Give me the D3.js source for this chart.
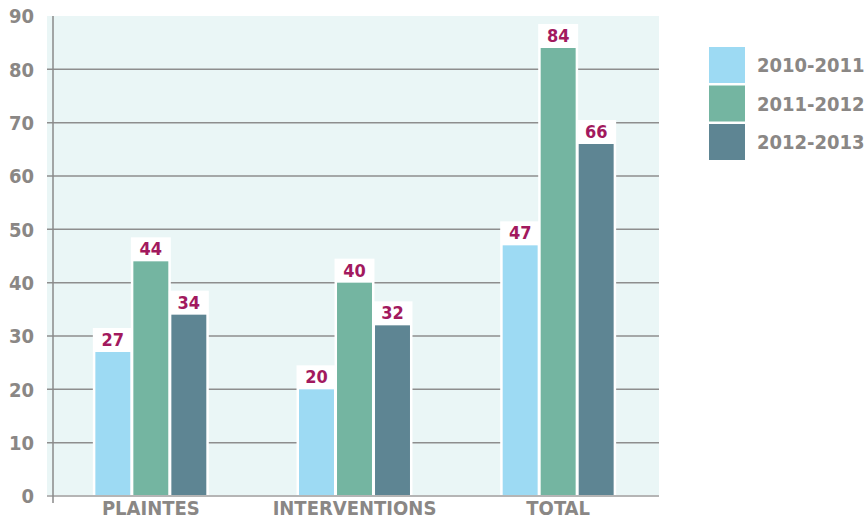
<!DOCTYPE html>
<html>
<head>
<meta charset="utf-8">
<script src="https://cdn.jsdelivr.net/npm/d3@7"></script>
<style>
  body { margin: 0; background: #fff; }
  text { font-family: "DejaVu Sans Condensed", Roboto, sans-serif; font-weight: bold; }
</style>
</head>
<body>
<div id="chart"></div>
<script>
const categories = ["PLAINTES", "INTERVENTIONS", "TOTAL"];
const series = ["2010-2011", "2011-2012", "2012-2013"];
const values2010 = [27, 20, 47];
const values2011 = [44, 40, 84];
const values2012 = [34, 32, 66];
const yTicks = [0, 10, 20, 30, 40, 50, 60, 70, 80, 90];
const colors = ["#9ddaf3", "#74b5a1", "#5e8593"];

const width = 867;
const height = 521;
const plot = { left: 47, axis: 53, right: 659, top: 16, bottom: 496 };

const svg = d3.select("#chart")
  .append("svg")
  .attr("width", width)
  .attr("height", height);

const y = d3.scaleLinear()
  .domain([0, 90])
  .range([plot.bottom, plot.top]);

const x = d3.scaleBand()
  .domain(categories)
  .range([49, 660]);

const xInner = d3.scaleBand()
  .domain(series)
  .range([-57, 57])
  .paddingInner(0.08)
  .paddingOuter(0.04);

const color = d3.scaleOrdinal().domain(series).range(colors);

const data = categories.map((c, i) => ({
  category: c,
  values: [values2010[i], values2011[i], values2012[i]].map((v, j) => ({ series: series[j], value: v }))
}));

// plot background
svg.append("rect")
  .attr("x", plot.left)
  .attr("y", plot.top)
  .attr("width", plot.right - plot.left)
  .attr("height", plot.bottom - plot.top)
  .attr("fill", "#eaf6f6");

// gridlines
svg.append("g")
  .selectAll("line")
  .data(yTicks.filter(t => t > 0 && t < 90))
  .enter()
  .append("line")
  .attr("x1", plot.left)
  .attr("x2", plot.right)
  .attr("y1", d => y(d))
  .attr("y2", d => y(d))
  .attr("stroke", "#8e8e8e")
  .attr("stroke-width", 1.5);

// bars
const groups = svg.append("g")
  .selectAll("g")
  .data(data)
  .enter()
  .append("g")
  .attr("transform", d => `translate(${x(d.category) + x.bandwidth() / 2},0)`);

const bar = groups.selectAll("g")
  .data(d => d.values)
  .enter()
  .append("g");

// white backing / border
bar.append("rect")
  .attr("x", d => xInner(d.series) - 2.5)
  .attr("y", d => y(d.value) - 24)
  .attr("width", xInner.bandwidth() + 5)
  .attr("height", d => plot.bottom - y(d.value) + 24)
  .attr("fill", "#fff");

bar.append("rect")
  .attr("x", d => xInner(d.series))
  .attr("y", d => y(d.value))
  .attr("width", xInner.bandwidth())
  .attr("height", d => plot.bottom - y(d.value))
  .attr("fill", d => color(d.series));

bar.append("text")
  .attr("x", d => xInner(d.series) + xInner.bandwidth() / 2)
  .attr("y", d => y(d.value) - 6)
  .attr("text-anchor", "middle")
  .attr("font-size", 18)
  .attr("fill", "#a2195e")
  .text(d => d.value);

// baseline
svg.append("line")
  .attr("x1", plot.left)
  .attr("x2", plot.right)
  .attr("y1", plot.bottom)
  .attr("y2", plot.bottom)
  .attr("stroke", "#b5b5b5")
  .attr("stroke-width", 2);

// left axis line
svg.append("line")
  .attr("x1", plot.axis)
  .attr("x2", plot.axis)
  .attr("y1", plot.top)
  .attr("y2", 503)
  .attr("stroke", "#8a8a8a")
  .attr("stroke-width", 1.5);

// y labels
svg.append("g")
  .selectAll("text")
  .data(yTicks)
  .enter()
  .append("text")
  .attr("x", 34)
  .attr("y", d => y(d))
  .attr("dy", "0.36em")
  .attr("text-anchor", "end")
  .attr("font-size", 20)
  .attr("fill", "#8a8785")
  .text(d => d);

// x labels
svg.append("g")
  .selectAll("text")
  .data(categories)
  .enter()
  .append("text")
  .attr("x", d => x(d) + x.bandwidth() / 2)
  .attr("y", 515)
  .attr("text-anchor", "middle")
  .attr("font-size", 20)
  .attr("fill", "#8a8785")
  .text(d => d);

// legend
const legend = svg.append("g")
  .attr("transform", "translate(709,47)");

const item = legend.selectAll("g")
  .data(series)
  .enter()
  .append("g")
  .attr("transform", (d, i) => `translate(0,${i * 38.5})`);

item.append("rect")
  .attr("width", 36)
  .attr("height", 36)
  .attr("fill", d => color(d));

item.append("text")
  .attr("x", 48)
  .attr("y", 18)
  .attr("dy", "0.36em")
  .attr("font-size", 20)
  .attr("fill", "#8a8785")
  .text(d => d);
</script>
</body>
</html>
